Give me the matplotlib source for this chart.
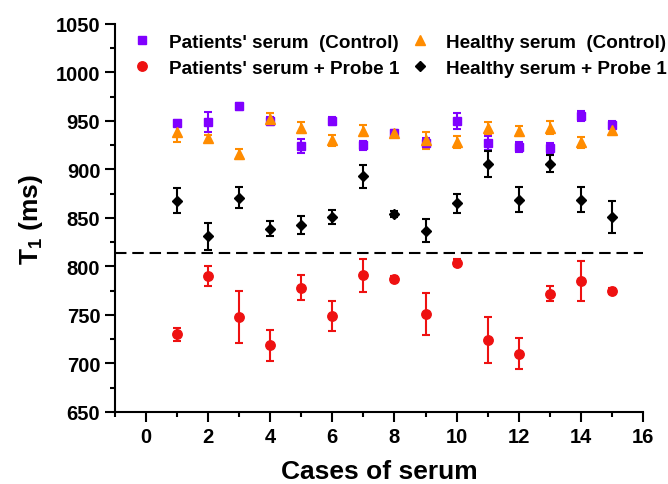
import numpy as np
import matplotlib
matplotlib.use('Agg')
import matplotlib.pyplot as plt
from matplotlib.ticker import MultipleLocator

plt.rcParams['font.family'] = ['Liberation Sans', 'DejaVu Sans']
plt.rcParams['font.weight'] = 'bold'
plt.rcParams['mathtext.fontset'] = 'custom'
plt.rcParams['mathtext.rm'] = 'Liberation Sans:bold'
plt.rcParams['mathtext.bf'] = 'Liberation Sans:bold'
plt.rcParams['mathtext.default'] = 'bf'

# data
cases = list(range(1, 16))

patients_ctrl = [948, 949, 965, 950, 924, 950, 925, 938, 927, 950, 927, 923, 922, 955, 946]
patients_ctrl_err = [3.5, 10.5, 4, 4, 7.5, 4, 4.5, 3, 5, 8, 7, 5, 5.5, 5, 3.5]

healthy_ctrl = [939, 932, 916, 952, 943, 930, 940, 938, 930, 928, 943, 940, 943, 928, 941]
healthy_ctrl_err = [11, 4, 5, 6, 5.5, 6, 6, 3, 8.5, 6, 6, 5, 6.5, 5.5, 5]

patients_probe = [730, 790, 748, 719, 778, 749, 791, 787, 751, 804, 724, 710, 772, 785, 775]
patients_probe_err = [6.5, 10.5, 27, 16, 13, 15.5, 17, 3, 22, 4, 23.5, 16, 8, 20.5, 3]

healthy_probe = [868, 831, 871, 839, 843, 851, 893, 854, 837, 865, 906, 869, 906, 869, 851]
healthy_probe_err = [12.5, 13.5, 10.5, 8, 9.5, 7, 12, 3, 11.5, 10, 13.5, 13, 9, 13, 16.5]

threshold = 814

fig = plt.figure(figsize=(6.68, 4.85), dpi=100)
ax = fig.add_axes([0.172, 0.1485, 0.7906, 0.80])

kw = dict(linestyle='none', capsize=3.2, elinewidth=1.5, capthick=1.5)
h1 = ax.errorbar(cases, patients_ctrl, yerr=patients_ctrl_err, marker='s', ms=5.8,
                 color='#8000ff', label="Patients' serum  (Control)", **kw)
h2 = ax.errorbar(cases, healthy_ctrl, yerr=healthy_ctrl_err, marker='^', ms=6.5,
                 color='#ff8c00', label='Healthy serum  (Control)', **kw)
h3 = ax.errorbar(cases, patients_probe, yerr=patients_probe_err, marker='o', ms=6.8,
                 color='#ee1111', label="Patients' serum + Probe 1", **kw)
h4 = ax.errorbar(cases, healthy_probe, yerr=healthy_probe_err, marker='D', ms=5.5,
                 color='black', label='Healthy serum + Probe 1', **kw)

ax.axhline(threshold, color='black', lw=1.5, ls=(0, (5.5, 2.8)))

ax.set_xlim(-1, 16)
ax.set_ylim(650, 1050)
ax.xaxis.set_major_locator(MultipleLocator(2))
ax.xaxis.set_minor_locator(MultipleLocator(1))
ax.yaxis.set_major_locator(MultipleLocator(50))
ax.yaxis.set_minor_locator(MultipleLocator(25))
ax.spines['top'].set_visible(False)
ax.spines['right'].set_visible(False)
for s in ['left', 'bottom']:
    ax.spines[s].set_linewidth(1.5)
ax.tick_params(which='major', direction='out', length=7, width=1.5, labelsize=14.5)
ax.tick_params(which='minor', direction='out', length=3.5, width=1.5)
for lab in ax.get_xticklabels() + ax.get_yticklabels():
    lab.set_fontweight('bold')

ax.set_xlabel('Cases of serum', fontsize=19, fontweight='bold', labelpad=10)
ax.set_ylabel('T$_1$ (ms)', fontsize=19, fontweight='bold', labelpad=8)

handles = [h1, h3, h2, h4]
leg = ax.legend(handles=[h[0] for h in handles], labels=[h.get_label() for h in handles],
                ncol=2, loc='upper left', bbox_to_anchor=(0.034, 0.975), frameon=False,
                prop={'weight': 'bold', 'size': 13.6}, handletextpad=0.9,
                columnspacing=0.6, labelspacing=0.45, handlelength=1.0,
                borderaxespad=0, borderpad=0)

fig.savefig('out.png', dpi=100)
